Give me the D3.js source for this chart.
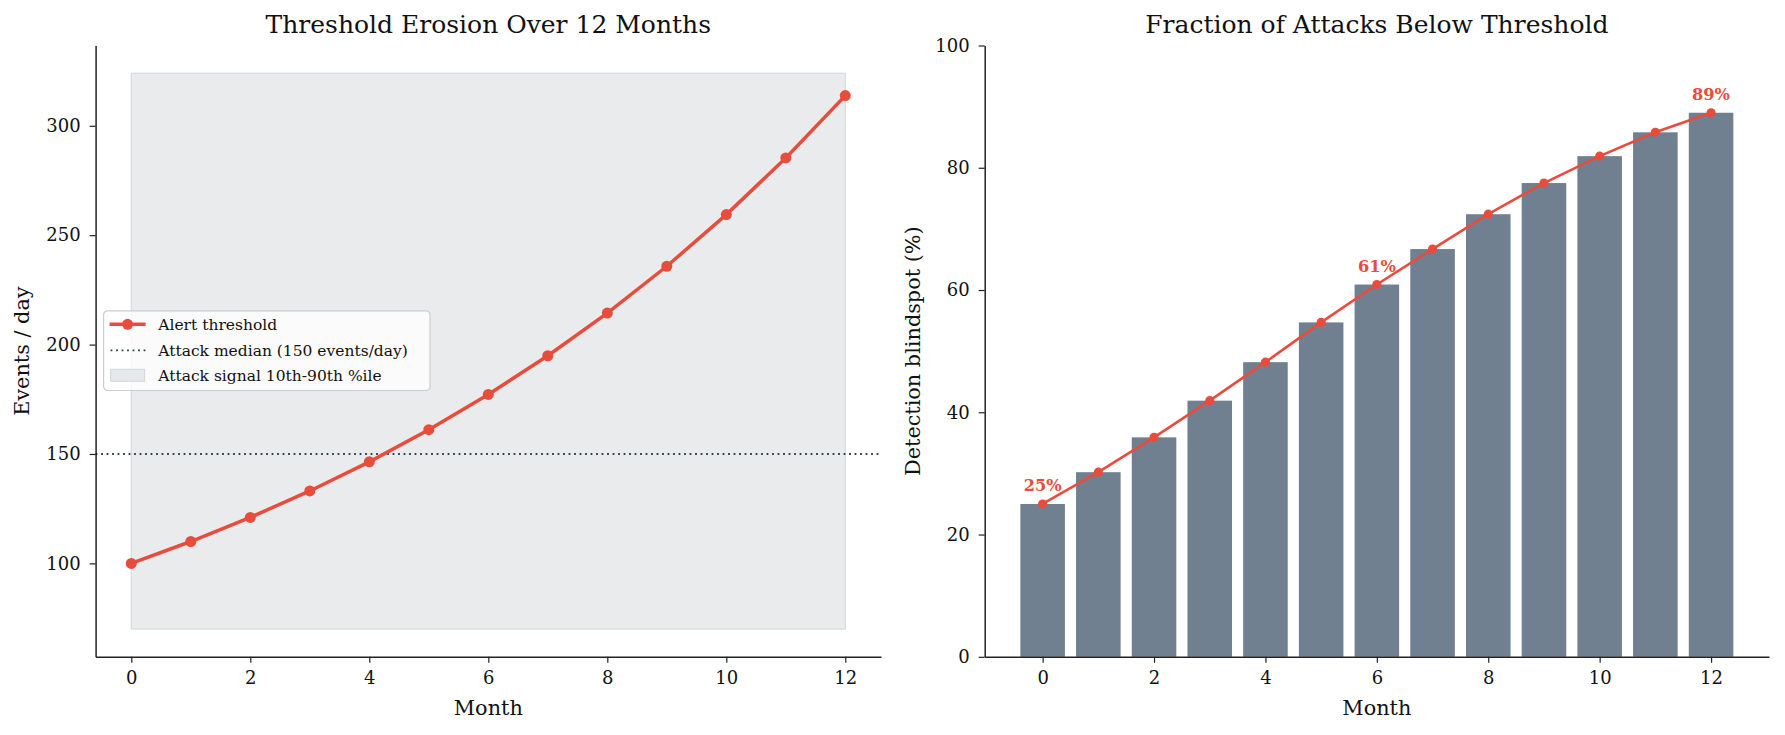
<!DOCTYPE html>
<html>
<head>
<meta charset="utf-8">
<script src="https://cdn.jsdelivr.net/npm/d3@7"></script>
<style>
  body { margin: 0; background: #fff; }
  svg text { font-family: "DejaVu Serif", serif; fill: #111; }
  .axis path, .axis line { stroke: #222; }
</style>
</head>
<body>
<svg id="chart"></svg>
<script>
var width = 1785,
    height = 735;

// Data
var months = [0, 1, 2, 3, 4, 5, 6, 7, 8, 9, 10, 11, 12];
var alertThreshold = [100, 110, 121, 133.1, 146.4, 161.1, 177.2, 194.9, 214.4, 235.8, 259.4, 285.3, 313.8];
var attackMedian = 150;
var attackBand = [70, 324];   // 10th / 90th percentile
var blindspot = [25, 30.2, 35.9, 41.9, 48.2, 54.7, 60.9, 66.7, 72.4, 77.5, 81.9, 85.8, 89.0];
var annotated = [0, 6, 12];
var xTicks = [0, 2, 4, 6, 8, 10, 12];
var leftYTicks = [100, 150, 200, 250, 300];
var rightYTicks = [0, 20, 40, 60, 80, 100];
var legendLabels = ['Alert threshold', 'Attack median (150 events/day)', 'Attack signal 10th-90th %ile'];

var red = '#e74c3c',
    navy = '#2c3e50',
    slate = '#708090';

var svg = d3.select('#chart')
  .attr('width', width)
  .attr('height', height);

svg.append('rect')
  .attr('fill', '#fff')
  .attr('width', width)
  .attr('height', height);

var plotTop = 45.5, plotBottom = 656.8;

function styleAxis(g) {
  g.attr('class', 'axis');
  g.select('.domain').attr('stroke-width', 1.5);
  g.selectAll('.tick line').attr('stroke-width', 1.2);
  g.selectAll('.tick text').style('font-size', '18px').attr('fill', '#111');
}

// ---------- Left panel ----------
var x1 = d3.scaleLinear([-0.6, 12.6], [95.6, 881]);
var lo = Math.min(attackBand[0], d3.min(alertThreshold)),
    hi = Math.max(attackBand[1], d3.max(alertThreshold)),
    padY = (hi - lo) * 0.05;
var y1 = d3.scaleLinear([lo - padY, hi + padY], [plotBottom, plotTop]);

var left = svg.append('g');

left.append('rect')
  .attr('x', x1(0))
  .attr('y', y1(attackBand[1]))
  .attr('width', x1(12) - x1(0))
  .attr('height', y1(attackBand[0]) - y1(attackBand[1]))
  .attr('fill', '#eaebed')
  .attr('stroke', '#d6d9dd')
  .attr('stroke-width', 1.2);

left.append('line')
  .attr('x1', x1.range()[0]).attr('x2', x1.range()[1])
  .attr('y1', y1(attackMedian)).attr('y2', y1(attackMedian))
  .attr('stroke', navy)
  .attr('stroke-width', 1.8)
  .attr('stroke-dasharray', '1.8,3.7');

var line1 = d3.line()
  .x(function(d, i) { return x1(months[i]); })
  .y(function(d) { return y1(d); });

left.append('path')
  .datum(alertThreshold)
  .attr('d', line1)
  .attr('fill', 'none')
  .attr('stroke', red)
  .attr('stroke-width', 3.5);

left.selectAll('circle')
  .data(alertThreshold)
  .join('circle')
  .attr('cx', function(d, i) { return x1(months[i]); })
  .attr('cy', function(d) { return y1(d); })
  .attr('r', 5.5)
  .attr('fill', red);

left.append('g')
  .attr('transform', 'translate(0,' + plotBottom + ')')
  .call(d3.axisBottom(x1).tickValues(xTicks).tickSize(6).tickPadding(8).tickSizeOuter(0))
  .call(styleAxis);

left.append('g')
  .attr('transform', 'translate(' + x1.range()[0] + ',0)')
  .call(d3.axisLeft(y1).tickValues(leftYTicks).tickSize(6).tickPadding(9).tickSizeOuter(0))
  .call(styleAxis);

left.append('text')
  .attr('x', (x1.range()[0] + x1.range()[1]) / 2)
  .attr('y', 33)
  .attr('text-anchor', 'middle')
  .style('font-size', '25px')
  .text('Threshold Erosion Over 12 Months');

left.append('text')
  .attr('x', (x1.range()[0] + x1.range()[1]) / 2)
  .attr('y', 715)
  .attr('text-anchor', 'middle')
  .style('font-size', '20.8px')
  .text('Month');

left.append('text')
  .attr('transform', 'translate(29,' + ((plotTop + plotBottom) / 2) + ') rotate(-90)')
  .attr('text-anchor', 'middle')
  .style('font-size', '20.8px')
  .text('Events / day');

// legend
var leg = left.append('g').attr('transform', 'translate(103.6,310.8)');
leg.append('rect')
  .attr('width', 326.4)
  .attr('height', 79.7)
  .attr('rx', 4)
  .attr('fill', 'rgba(255,255,255,0.8)')
  .attr('stroke', '#cccccc')
  .attr('stroke-width', 1.2);

var rowY = [13.5, 39.5, 64.5];
leg.append('line')
  .attr('x1', 6).attr('x2', 42)
  .attr('y1', rowY[0]).attr('y2', rowY[0])
  .attr('stroke', red).attr('stroke-width', 3.5);
leg.append('circle')
  .attr('cx', 24).attr('cy', rowY[0]).attr('r', 5.5).attr('fill', red);
leg.append('line')
  .attr('x1', 7).attr('x2', 42)
  .attr('y1', rowY[1]).attr('y2', rowY[1])
  .attr('stroke', navy).attr('stroke-width', 1.8)
  .attr('stroke-dasharray', '1.8,3.7');
leg.append('rect')
  .attr('x', 7).attr('y', rowY[2] - 6)
  .attr('width', 34).attr('height', 12)
  .attr('fill', '#e6e9ec')
  .attr('stroke', '#d3d7db')
  .attr('stroke-width', 1);

leg.selectAll('text.lab')
  .data(legendLabels)
  .join('text')
  .attr('class', 'lab')
  .attr('x', 54.7)
  .attr('y', function(d, i) { return rowY[i]; })
  .attr('dy', '0.35em')
  .style('font-size', '15.5px')
  .text(function(d) { return d; });

// ---------- Right panel ----------
var x2 = d3.scaleLinear([-1.04, 13.04], [984.7, 1769]);
var y2 = d3.scaleLinear([0, 100], [plotBottom, plotTop]);
var barW = 0.8;

var right = svg.append('g');

right.selectAll('rect.bar')
  .data(blindspot)
  .join('rect')
  .attr('class', 'bar')
  .attr('x', function(d, i) { return x2(months[i] - barW / 2); })
  .attr('width', x2(barW) - x2(0))
  .attr('y', function(d) { return y2(d); })
  .attr('height', function(d) { return y2(0) - y2(d); })
  .attr('fill', slate);

var line2 = d3.line()
  .x(function(d, i) { return x2(months[i]); })
  .y(function(d) { return y2(d); });

right.append('path')
  .datum(blindspot)
  .attr('d', line2)
  .attr('fill', 'none')
  .attr('stroke', red)
  .attr('stroke-width', 2.6);

right.selectAll('circle')
  .data(blindspot)
  .join('circle')
  .attr('cx', function(d, i) { return x2(months[i]); })
  .attr('cy', function(d) { return y2(d); })
  .attr('r', 4.6)
  .attr('fill', red);

right.selectAll('text.ann')
  .data(annotated)
  .join('text')
  .attr('class', 'ann')
  .attr('x', function(m) { return x2(m); })
  .attr('y', function(m) { return y2(blindspot[m]) - 12.5; })
  .attr('text-anchor', 'middle')
  .style('font-size', '16.2px')
  .style('font-weight', 'bold')
  .style('fill', red)
  .text(function(m) { return Math.round(blindspot[m]) + '%'; });

right.append('g')
  .attr('transform', 'translate(0,' + plotBottom + ')')
  .call(d3.axisBottom(x2).tickValues(xTicks).tickSize(6).tickPadding(8).tickSizeOuter(0))
  .call(styleAxis);

right.append('g')
  .attr('transform', 'translate(' + x2.range()[0] + ',0)')
  .call(d3.axisLeft(y2).tickValues(rightYTicks).tickSize(6).tickPadding(9).tickSizeOuter(0))
  .call(styleAxis);

right.append('text')
  .attr('x', (x2.range()[0] + x2.range()[1]) / 2)
  .attr('y', 33)
  .attr('text-anchor', 'middle')
  .style('font-size', '25px')
  .text('Fraction of Attacks Below Threshold');

right.append('text')
  .attr('x', (x2.range()[0] + x2.range()[1]) / 2)
  .attr('y', 715)
  .attr('text-anchor', 'middle')
  .style('font-size', '20.8px')
  .text('Month');

right.append('text')
  .attr('transform', 'translate(920,' + ((plotTop + plotBottom) / 2) + ') rotate(-90)')
  .attr('text-anchor', 'middle')
  .style('font-size', '20.8px')
  .text('Detection blindspot (%)');
</script>
</body>
</html>
